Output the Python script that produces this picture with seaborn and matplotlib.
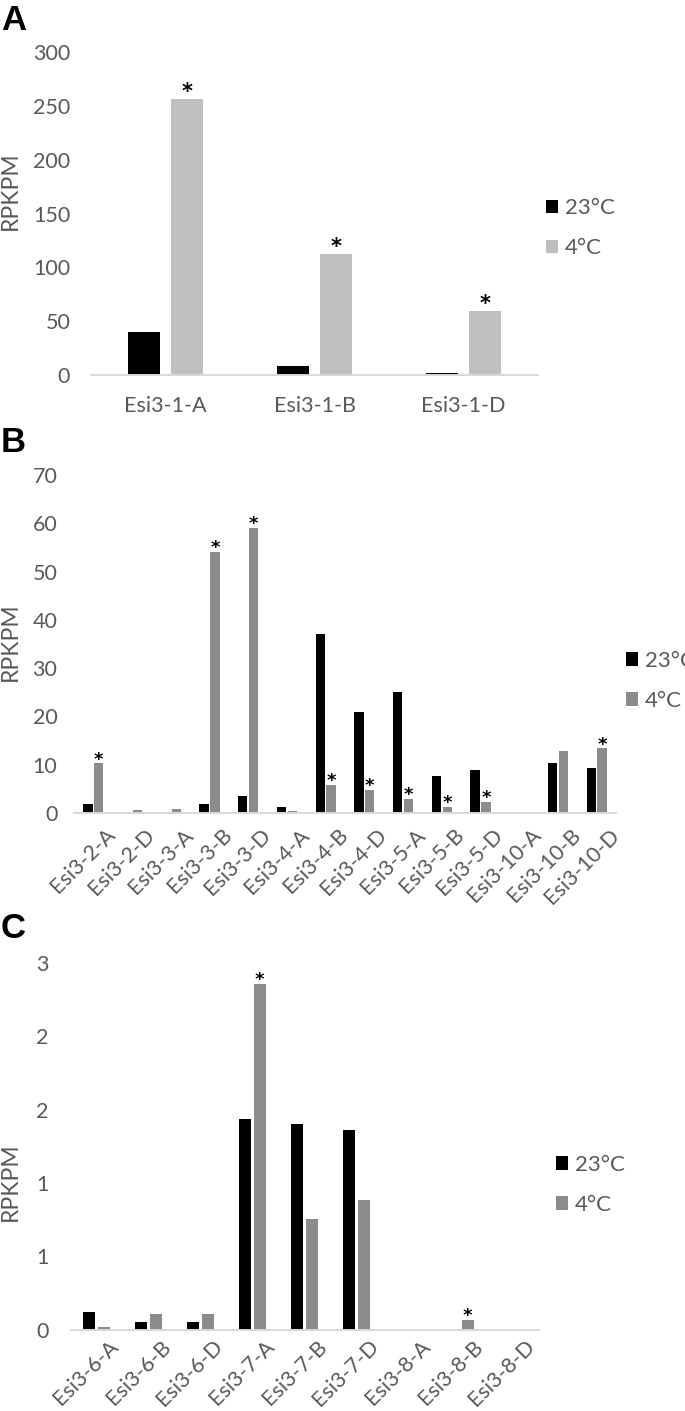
import matplotlib
matplotlib.use("Agg")
import matplotlib.pyplot as plt
import matplotlib.transforms as mtransforms
from matplotlib.patches import Patch
import seaborn as sns
import pandas as pd

sns.set_theme(style="white")
plt.rcParams['font.family'] = ['Lato', 'DejaVu Sans']

# ---------------- data ----------------
temps = ["23°C", "4°C"]

genes_a = ["Esi3-1-A", "Esi3-1-B", "Esi3-1-D"]
a_23 = [40.0, 8.4, 1.5]
a_4 = [256.4, 112.0, 59.4]
a_sig = [True, True, True]
a_ticks = [0, 50, 100, 150, 200, 250, 300]
a_ticklabels = ["0", "50", "100", "150", "200", "250", "300"]

genes_b = ["Esi3-2-A", "Esi3-2-D", "Esi3-3-A", "Esi3-3-B", "Esi3-3-D", "Esi3-4-A",
           "Esi3-4-B", "Esi3-4-D", "Esi3-5-A", "Esi3-5-B", "Esi3-5-D", "Esi3-10-A",
           "Esi3-10-B", "Esi3-10-D"]
b_23 = [1.9, 0.0, 0.0, 1.8, 3.6, 1.2, 37.1, 20.9, 25.1, 7.7, 8.9, 0.0, 10.4, 9.3]
b_4 = [10.3, 0.7, 0.8, 54.1, 59.1, 0.5, 5.8, 4.8, 3.0, 1.3, 2.3, 0.0, 12.8, 13.4]
b_sig = [True, False, False, True, True, False, True, True, True, True, True, False, False, True]
b_ticks = [0, 10, 20, 30, 40, 50, 60, 70]
b_ticklabels = ["0", "10", "20", "30", "40", "50", "60", "70"]

genes_c = ["Esi3-6-A", "Esi3-6-B", "Esi3-6-D", "Esi3-7-A", "Esi3-7-B", "Esi3-7-D",
           "Esi3-8-A", "Esi3-8-B", "Esi3-8-D"]
c_23 = [0.118, 0.054, 0.054, 1.436, 1.40, 1.36, 0.0, 0.0, 0.0]
c_4 = [0.02, 0.104, 0.104, 2.357, 0.757, 0.886, 0.0, 0.066, 0.0]
c_sig = [False, False, False, True, False, False, False, True, False]
c_ticks = [0, 0.5, 1.0, 1.5, 2.0, 2.5]
c_ticklabels = ["0", "1", "1", "2", "2", "3"]

TXT = "#595959"
AXIS = "#D9D9D9"

W, H = 685, 1411
fig = plt.figure(figsize=(W / 100, H / 100), dpi=100)


def fx(px):
    return px / W


def fy(py):
    return 1 - py / H


def panel(box, genes, v23, v4, sig, colors, ylim, ticks, ticklabels,
          rotate, width, gap, star_pts, star_size, ypad, lab_dy=-9):
    left, top, right, bottom = box
    ax = fig.add_axes([fx(left), fy(bottom), fx(right) - fx(left), fy(top) - fy(bottom)])
    df = pd.DataFrame({
        "gene": genes * 2,
        "value": list(v23) + list(v4),
        "temp": [temps[0]] * len(genes) + [temps[1]] * len(genes),
    })
    sns.barplot(data=df, x="gene", y="value", hue="temp", order=genes,
                hue_order=temps, palette=dict(zip(temps, colors)),
                width=width, gap=gap, saturation=1, errorbar=None,
                linewidth=0, legend=False, ax=ax)
    ax.set_ylim(*ylim)
    ax.set_yticks(ticks)
    ax.set_yticklabels(ticklabels)
    ax.set_xlabel("")
    ax.set_ylabel("")
    for s in ["top", "right", "left"]:
        ax.spines[s].set_visible(False)
    ax.spines["bottom"].set_color(AXIS)
    ax.spines["bottom"].set_linewidth(1.4)
    ax.tick_params(axis="both", length=0, colors=TXT, labelsize=15.5)
    ax.tick_params(axis="y", pad=ypad)
    if rotate:
        ax.set_xticks(range(len(genes)))
        ax.set_xticklabels(genes, rotation=45, ha="right", rotation_mode="anchor")
        ax.tick_params(axis="x", pad=2)
        off = mtransforms.ScaledTranslation(12 / 100, lab_dy / 100, fig.dpi_scale_trans)
        for lab in ax.get_xticklabels():
            lab.set_transform(lab.get_transform() + off)
    else:
        ax.tick_params(axis="x", pad=15)
    # significance asterisks on 4°C bars
    bars4 = ax.containers[1]
    for bar, s in zip(bars4, sig):
        if s:
            ax.annotate("*", (bar.get_x() + bar.get_width() / 2, bar.get_height()),
                        xytext=(0, star_pts), textcoords="offset points",
                        ha="center", va="baseline", fontsize=star_size,
                        fontweight="bold", family="DejaVu Sans", color="black")
    return ax


# Panel A
panel((91, 52, 538, 375), genes_a, a_23, a_4, a_sig, ["#000000", "#BFBFBF"],
      (0, 300), a_ticks, a_ticklabels, False, 0.576, 0.25, 1, 15, 15)
# Panel B
panel((74, 475, 616, 813), genes_b, b_23, b_4, b_sig, ["#000000", "#8C8C8C"],
      (0, 70), b_ticks, b_ticklabels, True, 0.56, 0.15, -1, 13, 12, -9)
# Panel C
panel((70.5, 963, 538.5, 1329.5), genes_c, c_23, c_4, c_sig, ["#000000", "#8C8C8C"],
      (0, 2.5), c_ticks, c_ticklabels, True, 0.56, 0.16, -1, 13, 16, -4)

# Panel letters
for letter, y in [("A", 4), ("B", 426), ("C", 912)]:
    fig.text(fx(1), fy(y), letter, ha="left", va="top", fontsize=25,
             fontweight="bold", family="Liberation Sans", color="black")

# y-axis labels
for yc in [191, 642, 1182]:
    fig.text(fx(10), fy(yc), "RPKPM", rotation=90, ha="center", va="center",
             fontsize=16.5, color=TXT)

# legends
def legend(x, yc, gray):
    handles = [Patch(facecolor="#000000", edgecolor="none"),
               Patch(facecolor=gray, edgecolor="none")]
    lg = fig.legend(handles, temps, loc="center left",
                    bbox_to_anchor=(fx(x), fy(yc)), frameon=False,
                    fontsize=16, handlelength=0.55, handleheight=0.55,
                    handletextpad=0.3, labelspacing=0.9, borderpad=0,
                    borderaxespad=0)
    for t in lg.get_texts():
        t.set_color(TXT)

legend(546, 228.5, "#BFBFBF")
legend(626, 681, "#8C8C8C")
legend(556, 1185, "#8C8C8C")

fig.savefig("out.png", dpi=100)
